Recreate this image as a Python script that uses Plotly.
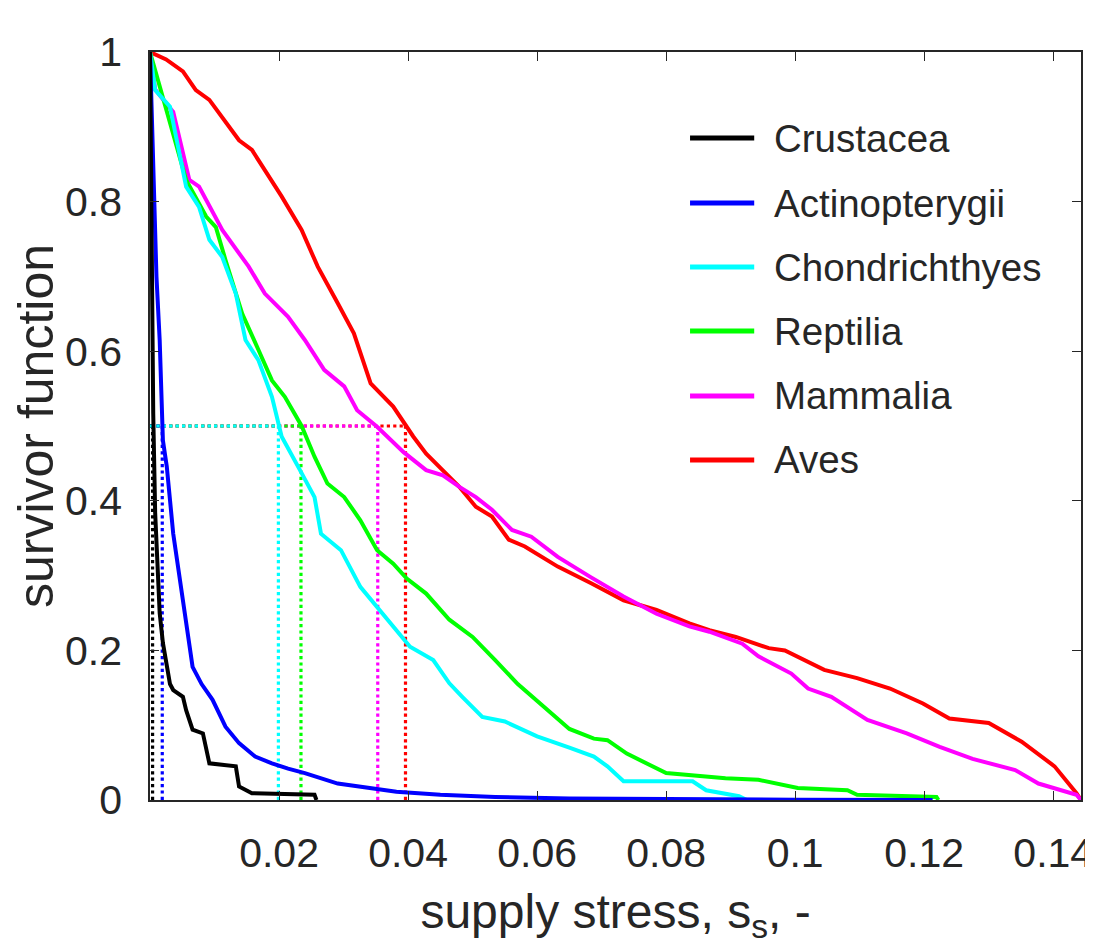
import plotly.graph_objects as go

# ---------------- data ----------------
series_names = ["Crustacea", "Actinopterygii", "Chondrichthyes", "Reptilia", "Mammalia", "Aves"]
series_colors = ["#000000", "#0000FF", "#00FFFF", "#00FF00", "#FF00FF", "#FF0000"]

crustacea_x = [0, 0.0002, 0.0005, 0.0008, 0.0012, 0.0015, 0.0020, 0.0026, 0.0031, 0.0036, 0.0051,
               0.0056, 0.0066, 0.0082, 0.0087, 0.0092, 0.0133, 0.0138, 0.0158, 0.0255, 0.0258]
crustacea_y = [1.0, 0.75, 0.517, 0.384, 0.30, 0.25, 0.21, 0.178, 0.155, 0.147, 0.138,
               0.12, 0.094, 0.089, 0.07, 0.049, 0.045, 0.018, 0.009, 0.007, 0.0]

actinopterygii_x = [0, 0.0003, 0.0006, 0.001, 0.0015, 0.002, 0.0026, 0.0036, 0.0051, 0.0066, 0.008,
                    0.0097, 0.0117, 0.0138, 0.0163, 0.0189, 0.0214, 0.024, 0.0291, 0.034, 0.0382,
                    0.045, 0.0535, 0.065, 0.08, 0.1, 0.1213]
actinopterygii_y = [1.0, 0.9, 0.8, 0.70, 0.615, 0.481, 0.446, 0.356, 0.267, 0.178, 0.155,
                    0.134, 0.098, 0.076, 0.058, 0.049, 0.042, 0.036, 0.022, 0.016, 0.011,
                    0.007, 0.004, 0.002, 0.001, 0.0005, 0.0]

chondrichthyes_x = [0, 0.0008, 0.0031, 0.0056, 0.0076, 0.0092, 0.0112, 0.0133, 0.0148, 0.0168, 0.0189,
                    0.0199, 0.0204, 0.0235, 0.0255, 0.0265, 0.0288, 0.0296, 0.0326, 0.0352, 0.0377,
                    0.0403, 0.0439, 0.0464, 0.0484, 0.0515, 0.055, 0.060, 0.065, 0.0688, 0.0709,
                    0.0734, 0.0841, 0.0862, 0.0913, 0.0925]
chondrichthyes_y = [1.0, 0.949, 0.927, 0.820, 0.793, 0.749, 0.726, 0.677, 0.615, 0.588, 0.539,
                    0.5, 0.486, 0.437, 0.405, 0.356, 0.339, 0.334, 0.285, 0.258, 0.232,
                    0.205, 0.187, 0.156, 0.138, 0.111, 0.105, 0.085, 0.070, 0.058, 0.045,
                    0.025, 0.025, 0.013, 0.005, 0.0]

reptilia_x = [0, 0.002, 0.0036, 0.0056, 0.0087, 0.0102, 0.0117, 0.0143, 0.0168, 0.0189, 0.0209,
              0.0235, 0.0255, 0.0275, 0.0301, 0.0326, 0.0352, 0.0377, 0.0398, 0.0428, 0.0464,
              0.050, 0.0535, 0.057, 0.061, 0.065, 0.0688, 0.0709, 0.0739, 0.08, 0.0892,
              0.0943, 0.1004, 0.1081, 0.1096, 0.1219, 0.1222]
reptilia_y = [1.0, 0.94, 0.891, 0.829, 0.78, 0.766, 0.722, 0.650, 0.602, 0.561, 0.539,
              0.5, 0.459, 0.423, 0.405, 0.374, 0.334, 0.316, 0.296, 0.276, 0.241,
              0.218, 0.187, 0.155, 0.125, 0.095, 0.082, 0.08, 0.062, 0.036, 0.029,
              0.027, 0.016, 0.013, 0.007, 0.004, 0.0]

mammalia_x = [0, 0.0008, 0.0031, 0.0036, 0.0061, 0.0076, 0.0112, 0.0153, 0.0178, 0.0214, 0.024,
              0.027, 0.0301, 0.0321, 0.0352, 0.0393, 0.0428, 0.0454, 0.0479, 0.0505, 0.053,
              0.0561, 0.0591, 0.0632, 0.0683, 0.0734, 0.0785, 0.0836, 0.0867, 0.0918, 0.0943,
              0.0994, 0.102, 0.1056, 0.1112, 0.1173, 0.1224, 0.1275, 0.1341, 0.1377, 0.1436, 0.1443]
mammalia_y = [1.0, 0.95, 0.925, 0.920, 0.829, 0.820, 0.762, 0.713, 0.677, 0.646, 0.615,
              0.575, 0.553, 0.521, 0.499, 0.465, 0.441, 0.434, 0.419, 0.405, 0.388,
              0.361, 0.352, 0.325, 0.298, 0.272, 0.249, 0.232, 0.225, 0.209, 0.192,
              0.169, 0.149, 0.138, 0.107, 0.089, 0.071, 0.055, 0.040, 0.022, 0.007, 0.0]

aves_x = [0, 0.0025, 0.0051, 0.0071, 0.0092, 0.0138, 0.0158, 0.0204, 0.0235, 0.026, 0.0291,
          0.0316, 0.0342, 0.0377, 0.0408, 0.0428, 0.0479, 0.0505, 0.053, 0.0556, 0.0581,
          0.0632, 0.0683, 0.0734, 0.0785, 0.0836, 0.0867, 0.0908, 0.0959, 0.0984, 0.1045,
          0.1096, 0.1147, 0.1198, 0.1239, 0.13, 0.1351, 0.1402, 0.1436, 0.1443]
aves_y = [1.0, 0.99, 0.974, 0.949, 0.936, 0.882, 0.869, 0.807, 0.762, 0.713, 0.664,
          0.624, 0.557, 0.526, 0.486, 0.463, 0.419, 0.392, 0.379, 0.348, 0.339,
          0.312, 0.290, 0.267, 0.254, 0.236, 0.227, 0.218, 0.203, 0.2, 0.174,
          0.163, 0.149, 0.129, 0.109, 0.103, 0.078, 0.045, 0.009, 0.0]

# median supply stress of each class (where survivor function = 0.5)
medians = [0.0004, 0.0019, 0.0199, 0.0234, 0.0353, 0.0396]
median_level = 0.5

x_tick_vals = [0.02, 0.04, 0.06, 0.08, 0.1, 0.12, 0.14]
x_tick_text = ["0.02", "0.04", "0.06", "0.08", "0.1", "0.12", "0.14"]
y_tick_vals = [0, 0.2, 0.4, 0.6, 0.8, 1]
y_tick_text = ["0", "0.2", "0.4", "0.6", "0.8", "1"]

x_label = "supply stress, s<sub>s</sub>, -"
y_label = "survivor function"

series_x = [crustacea_x, actinopterygii_x, chondrichthyes_x, reptilia_x, mammalia_x, aves_x]
series_y = [crustacea_y, actinopterygii_y, chondrichthyes_y, reptilia_y, mammalia_y, aves_y]

# ---------------- figure ----------------
FONT = "Liberation Sans, Arial, Helvetica, sans-serif"
TXT = "#262626"

# the page body has an 8px margin: the figure is placed at (8, 8)
OFF = 8
FIG_W, FIG_H = 1093 - OFF, 945 - OFF
PLOT_L, PLOT_R, PLOT_T, PLOT_B = 150, 1093, 52, 800   # page pixels of plot box

fig = go.Figure()

# dotted median markers (vertical), drawn beneath curves
for name, col, m in zip(series_names, series_colors, medians):
    fig.add_trace(go.Scatter(x=[m, m], y=[0, median_level], mode="lines",
                             line=dict(color=col, width=3.2, dash="dot"),
                             showlegend=False, hoverinfo="skip"))
# dotted horizontal lines at 0.5 (longest first so shorter on top)
order = [5, 4, 3, 1, 0, 2]
for i in order:
    fig.add_trace(go.Scatter(x=[0, medians[i]], y=[median_level, median_level], mode="lines",
                             line=dict(color=series_colors[i], width=3.2, dash="dot"),
                             showlegend=False, hoverinfo="skip"))

# survivor curves (drawn from Aves back to Crustacea, as layered in the original)
for k in reversed(range(len(series_names))):
    fig.add_trace(go.Scatter(x=series_x[k], y=series_y[k], mode="lines", name=series_names[k],
                             line=dict(color=series_colors[k], width=4),
                             showlegend=False))

# custom legend (MATLAB-like long line samples)
W_PLOT = PLOT_R - PLOT_L
H_PLOT = PLOT_B - PLOT_T
leg_rows_px = [138, 203, 267, 331, 396, 460]
for name, col, py in zip(series_names, series_colors, leg_rows_px):
    yp = (PLOT_B - py) / H_PLOT
    fig.add_shape(type="line", xref="paper", yref="paper",
                  x0=(697 - PLOT_L) / W_PLOT, x1=(762 - PLOT_L) / W_PLOT, y0=yp, y1=yp,
                  line=dict(color=col, width=5))
    fig.add_annotation(xref="paper", yref="paper", x=(780 - PLOT_L) / W_PLOT, y=yp,
                       xanchor="left", yanchor="middle", text=name, showarrow=False,
                       font=dict(family=FONT, size=38.5, color=TXT))

axis_common = dict(showgrid=False, zeroline=False, showline=True, linecolor=TXT, linewidth=1.5,
                   ticks="inside", ticklen=9, tickwidth=1.3, tickcolor=TXT, mirror="allticks",
                   tickfont=dict(family=FONT, size=41, color=TXT))

fig.update_layout(
    width=FIG_W, height=FIG_H,
    margin=dict(l=PLOT_L - OFF, r=0, t=PLOT_T - OFF, b=FIG_H - (PLOT_B - OFF)),
    paper_bgcolor="white", plot_bgcolor="white",
    font=dict(family=FONT, color=TXT),
    showlegend=False,
    xaxis=dict(range=[0, 0.1443], tickvals=x_tick_vals, ticktext=x_tick_text,
               ticklabelstandoff=16, ticklabeloverflow="allow",
               title=dict(text=x_label, font=dict(family=FONT, size=48, color=TXT), standoff=26),
               **axis_common),
    yaxis=dict(range=[0, 1], tickvals=y_tick_vals, ticktext=y_tick_text,
               ticklabelstandoff=18,
               title=dict(text=y_label, font=dict(family=FONT, size=50, color=TXT), standoff=12),
               **axis_common),
)

fig.write_html("out.html")
